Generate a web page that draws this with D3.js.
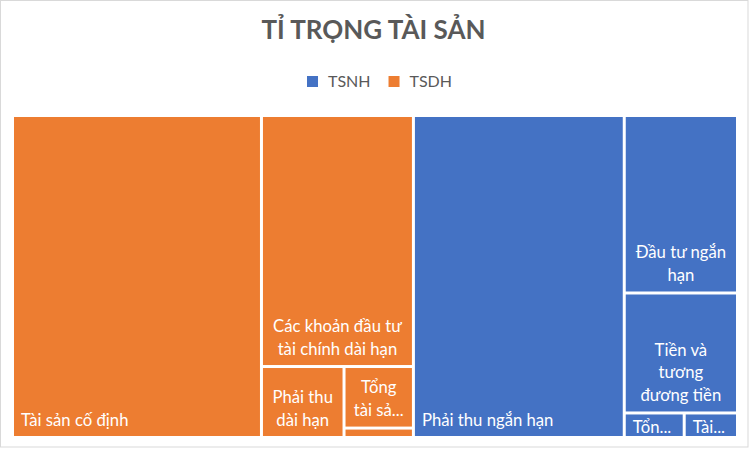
<!DOCTYPE html>
<html><head><meta charset="utf-8">
<script src="https://cdn.jsdelivr.net/npm/d3@7"></script>
<style>body{margin:0;background:#fff}svg{display:block}</style>
</head><body><svg id="c" width="751" height="451"></svg>
<script>
// ---- data (percent of total assets) ----
const title = "TỈ TRỌNG TÀI SẢN";
const groups = ["TSDH", "TSNH"];
const legendOrder = ["TSNH", "TSDH"];

const tsdhNames  = ["Tài sản cố định", "Các khoản đầu tư tài chính dài hạn", "Phải thu dài hạn", "Tổng tài sản dở dang dài hạn", "Tài sản dài hạn khác"];
const tsdhValues = [34.34, 16.34, 2.51, 1.83, 0.28];
const tsdhLabels = ["Tài sản cố định", "Các khoản đầu tư\ntài chính dài hạn", "Phải thu\ndài hạn", "Tổng\ntài sả...", ""];

const tsnhNames  = ["Phải thu ngắn hạn", "Đầu tư ngắn hạn", "Tiền và tương đương tiền", "Tổng hàng tồn kho", "Tài sản ngắn hạn khác"];
const tsnhValues = [29.08, 8.61, 5.82, 0.63, 0.56];
const tsnhLabels = ["Phải thu ngắn hạn", "Đầu tư ngắn\nhạn", "Tiền và\ntương\nđương tiền", "Tổn...", "Tài..."];

// ---- build hierarchy ----
const mk = (names, values, labels) => names.map((n, i) => ({name: n, value: values[i], label: labels[i]}));
const tree = {name: "root", children: [
  {name: groups[0], children: mk(tsdhNames, tsdhValues, tsdhLabels)},
  {name: groups[1], children: mk(tsnhNames, tsnhValues, tsnhLabels)}
]};

const W = 751, H = 451;
const plot = {x: 12.5, y: 115.5, w: 725, h: 322};
const inset = 1.5;
const color = d3.scaleOrdinal().domain(["TSNH", "TSDH"]).range(["#4472C4", "#ED7D31"]);
const font = "Lato, 'Open Sans', sans-serif";

const svg = d3.select("#c");
svg.append("rect").attr("x", 0).attr("y", 0).attr("width", W).attr("height", H).attr("fill", "#fff");
svg.append("rect").attr("x", 0.5).attr("y", 0.5).attr("width", 747.5).attr("height", 446.5)
  .attr("fill", "#fff").attr("stroke", "#d9d9d9");

// title
svg.append("text").attr("x", 373.5).attr("y", 39).attr("text-anchor", "middle")
  .attr("font-family", font).attr("font-weight", 700).attr("font-size", 26)
  .attr("fill", "#595959").text(title);

// legend
const lg = svg.append("g");
let lx = 0;
legendOrder.forEach((g, i) => {
  const item = lg.append("g").attr("transform", `translate(${lx},0)`);
  item.append("rect").attr("x", 0).attr("y", 76).attr("width", 11).attr("height", 11).attr("fill", color(g));
  const t = item.append("text").attr("x", 21).attr("y", 87).attr("font-family", font)
    .attr("font-size", 16).attr("fill", "#595959").text(g);
  lx += 21 + t.node().getComputedTextLength() + 18;
});
const lw = lx - 18;
lg.attr("transform", `translate(${379.5 - lw / 2},0)`);

// treemap
const root = d3.hierarchy(tree).sum(d => d.children ? 0 : d.value).sort((a, b) => b.value - a.value);
d3.treemap().tile(d3.treemapSquarify.ratio(1)).size([plot.w, plot.h])(root);

const leaves = svg.append("g").attr("transform", `translate(${plot.x},${plot.y})`)
  .selectAll("g").data(root.leaves()).join("g");

leaves.append("rect")
  .attr("x", d => d.x0 + inset).attr("y", d => d.y0 + inset)
  .attr("width", d => Math.max(0, d.x1 - d.x0 - 2 * inset))
  .attr("height", d => Math.max(0, d.y1 - d.y0 - 2 * inset))
  .attr("fill", d => color(d.parent.data.name));

leaves.each(function(d) {
  if (!d.data.label) return;
  const lines = d.data.label.split("\n");
  const vx0 = d.x0 + inset, vx1 = d.x1 - inset, vy0 = d.y0 + inset, vy1 = d.y1 - inset;
  const lh = 22.7;
  const last = Math.max(vy1 - 10.5, vy0 + 18.5);
  const multi = lines.length > 1;
  const t = d3.select(this).append("text")
    .attr("font-family", font).attr("font-size", 16.7).attr("fill", "#fff")
    .attr("text-anchor", multi ? "middle" : "start");
  lines.forEach((ln, i) => {
    t.append("tspan").attr("x", multi ? (vx0 + vx1) / 2 : vx0 + 7)
      .attr("y", last - (lines.length - 1 - i) * lh).text(ln);
  });
});
</script></body></html>
